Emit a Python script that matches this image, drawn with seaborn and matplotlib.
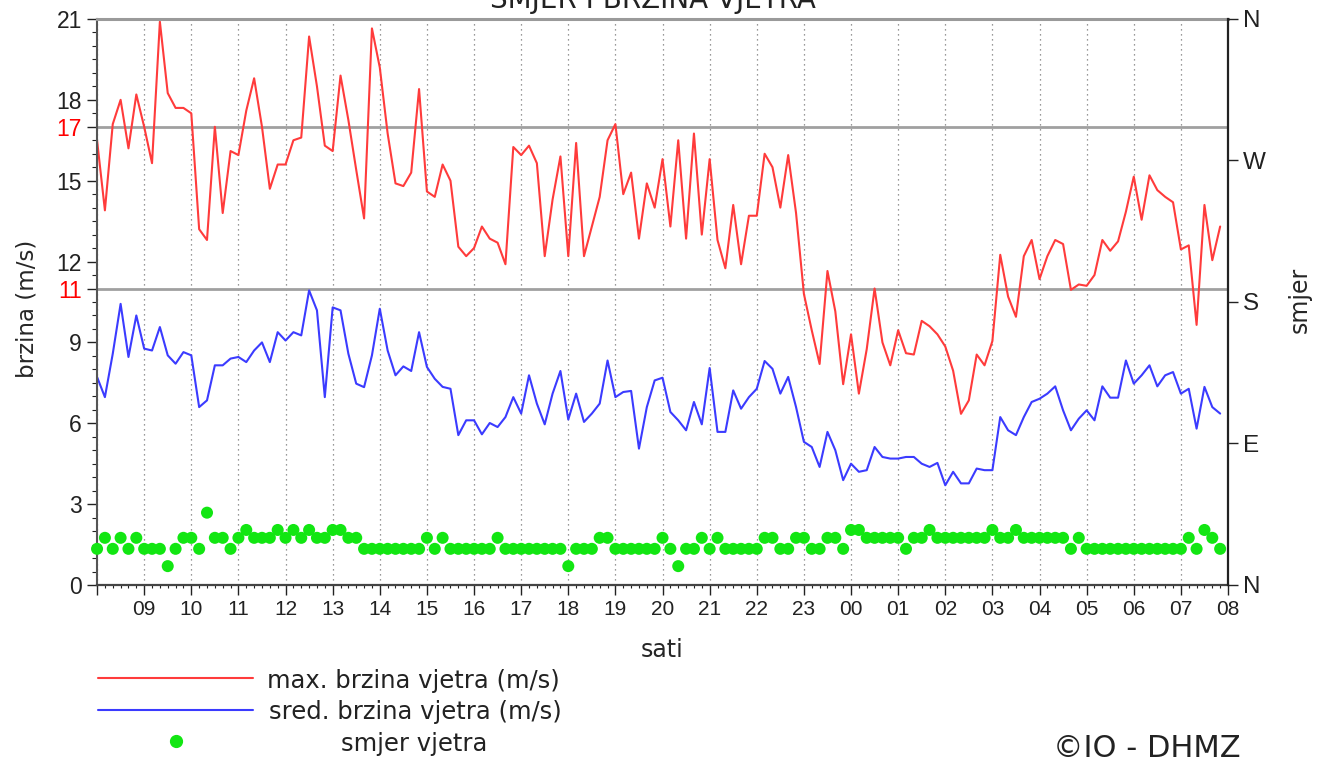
import numpy as np
import pandas as pd
import matplotlib as mpl
from matplotlib import pyplot as plt
from matplotlib import dates as mdates
from matplotlib.lines import Line2D
from matplotlib.ticker import MultipleLocator
import seaborn as sb

# 10 minute values, 08:00 -> 07:50 next day
max_speed = [
    16.5, 13.9, 17.1, 18.0, 16.2, 18.2, 17.0, 15.65, 20.9, 18.25,
    17.7, 17.7, 17.5, 13.2, 12.8, 17.0, 13.8, 16.1, 15.95, 17.6,
    18.8, 17.0, 14.7, 15.6, 15.6, 16.5, 16.6, 20.35, 18.5, 16.3,
    16.1, 18.9, 17.25, 15.4, 13.6, 20.65, 19.2, 16.75, 14.9, 14.8,
    15.3, 18.4, 14.6, 14.4, 15.6, 15.0, 12.55, 12.2, 12.5, 13.3,
    12.85, 12.7, 11.9, 16.25, 15.95, 16.3, 15.65, 12.2, 14.3, 15.9,
    12.2, 16.4, 12.2, 13.3, 14.4, 16.5, 17.1, 14.5, 15.3, 12.85,
    14.9, 14.0, 15.8, 13.3, 16.5, 12.85, 16.75, 13.0, 15.8, 12.8,
    11.75, 14.1, 11.9, 13.7, 13.7, 16.0, 15.5, 14.0, 15.95, 13.8,
    10.8, 9.45, 8.2, 11.65, 10.15, 7.45, 9.3, 7.1, 8.75, 11.0,
    9.0, 8.15, 9.45, 8.6, 8.55, 9.8, 9.6, 9.3, 8.85, 7.95,
    6.35, 6.85, 8.55, 8.15, 9.05, 12.25, 10.7, 9.95, 12.2, 12.8,
    11.35, 12.2, 12.8, 12.65, 10.95, 11.15, 11.1, 11.5, 12.8, 12.4,
    12.75, 13.85, 15.15, 13.55, 15.2, 14.65, 14.4, 14.2, 12.45, 12.6,
    9.65, 14.1, 12.05, 13.3,
]
mean_speed = [
    7.72, 6.97, 8.58, 10.43, 8.46, 10.0, 8.77, 8.7, 9.57, 8.52,
    8.21, 8.64, 8.52, 6.6, 6.85, 8.15, 8.15, 8.4, 8.46, 8.27,
    8.7, 9.0, 8.27, 9.38, 9.07, 9.38, 9.26, 10.93, 10.19, 6.97,
    10.3, 10.19, 8.58, 7.47, 7.34, 8.52, 10.25, 8.7, 7.78, 8.11,
    7.94, 9.38, 8.09, 7.65, 7.35, 7.28, 5.56, 6.11, 6.11, 5.59,
    6.01, 5.86, 6.23, 6.97, 6.36, 7.78, 6.73, 5.96, 7.1, 7.94,
    6.14, 7.1, 6.05, 6.36, 6.73, 8.33, 6.97, 7.16, 7.2, 5.06,
    6.6, 7.59, 7.69, 6.42, 6.11, 5.74, 6.79, 5.96, 8.05, 5.68,
    5.68, 7.22, 6.54, 6.97, 7.28, 8.31, 8.02, 7.1, 7.72, 6.6,
    5.31, 5.12, 4.38, 5.68, 5.0, 3.89, 4.5, 4.2, 4.26, 5.12,
    4.75, 4.69, 4.69, 4.75, 4.75, 4.5, 4.38, 4.53, 3.7, 4.2,
    3.77, 3.77, 4.32, 4.26, 4.26, 6.23, 5.74, 5.56, 6.23, 6.79,
    6.91, 7.1, 7.37, 6.48, 5.74, 6.17, 6.48, 6.11, 7.37, 6.95,
    6.95, 8.33, 7.47, 7.78, 8.15, 7.37, 7.78, 7.9, 7.1, 7.28,
    5.8, 7.35, 6.6, 6.36,
]
# wind direction in degrees
direction = [
    23, 30, 23, 30, 23, 30, 23, 23, 23, 12,
    23, 30, 30, 23, 46, 30, 30, 23, 30, 35,
    30, 30, 30, 35, 30, 35, 30, 35, 30, 30,
    35, 35, 30, 30, 23, 23, 23, 23, 23, 23,
    23, 23, 30, 23, 30, 23, 23, 23, 23, 23,
    23, 30, 23, 23, 23, 23, 23, 23, 23, 23,
    12, 23, 23, 23, 30, 30, 23, 23, 23, 23,
    23, 23, 30, 23, 12, 23, 23, 30, 23, 30,
    23, 23, 23, 23, 23, 30, 30, 23, 23, 30,
    30, 23, 23, 30, 30, 23, 35, 35, 30, 30,
    30, 30, 30, 23, 30, 30, 35, 30, 30, 30,
    30, 30, 30, 30, 35, 30, 30, 35, 30, 30,
    30, 30, 30, 30, 23, 30, 23, 23, 23, 23,
    23, 23, 23, 23, 23, 23, 23, 23, 23, 30,
    23, 35, 30, 23,
]

start = pd.Timestamp("2024-01-01 08:00")
times = pd.date_range(start, periods=len(max_speed), freq="10min")
hour_ticks = pd.date_range(start, periods=25, freq="h")
hour_labels = [""] + [t.strftime("%H") for t in hour_ticks[1:]]

speed_ticks = [0, 3, 6, 9, 11, 12, 15, 17, 18, 21]
limit_lines = [11, 17]
compass_ticks = [0, 90, 180, 270, 360]
compass_labels = ["N", "E", "S", "W", "N"]

RED = "#ff3b3b"
BLUE = "#3b3bff"
GREEN = "#12e612"
WORDS = "DejaVu Sans"

sb.set_theme(style="white")
mpl.rcParams.update({
    "axes.facecolor": "white",
    "figure.facecolor": "white",
    "text.color": "#222222",
    "xtick.color": "#222222",
    "ytick.color": "#222222",
})
mpl.rcParams["font.family"] = ["Liberation Sans", "DejaVu Sans"]

data = pd.DataFrame({"t": times, "max": max_speed, "mean": mean_speed, "dir": direction})

fig = plt.figure(figsize=(13.24, 7.65), dpi=100)
ax = fig.add_axes([0.0733, 0.2353, 0.8542, 0.7399])

sb.lineplot(data=data, x="t", y="max", color=RED, linewidth=1.5, ax=ax)
sb.lineplot(data=data, x="t", y="mean", color=BLUE, linewidth=1.5, ax=ax)

for v in limit_lines:
    ax.axhline(v, color="#a0a0a0", linewidth=2.0, zorder=1)

ax.set_xlim(mdates.date2num(hour_ticks[0]), mdates.date2num(hour_ticks[-1]))
ax.set_ylim(0, 21)
ax.set_xticks(mdates.date2num(hour_ticks))
ax.set_xticklabels(hour_labels)
ax.xaxis.set_minor_locator(mdates.MinuteLocator(byminute=range(0, 60, 10)))
ax.set_yticks(speed_ticks)
ax.yaxis.set_minor_locator(MultipleLocator(0.5))
for lab in ax.get_yticklabels():
    if float(lab.get_text().replace("\u2212", "-")) in limit_lines:
        lab.set_color("red")

ax.grid(True, axis="x", which="major", color="#777777", linestyle=(0, (1, 3)), linewidth=0.9)
ax.tick_params(axis="x", which="major", bottom=True, direction="out", length=7, width=1,
               labelsize=15, pad=4)
ax.tick_params(axis="x", which="minor", bottom=True, direction="out", length=2.5, width=0.8)
ax.tick_params(axis="y", which="major", left=True, direction="out", length=7, width=1,
               labelsize=16.5, pad=4)
ax.tick_params(axis="y", which="minor", left=True, direction="out", length=3.5, width=0.8)

ax.spines["top"].set_color("#9a9a9a")
ax.spines["top"].set_linewidth(2.2)
ax.spines["left"].set_color("#555555")
ax.spines["left"].set_linewidth(1.5)
ax.spines["bottom"].set_color("#444444")
ax.spines["bottom"].set_linewidth(1.6)
ax.spines["right"].set_visible(False)

ax.set_xlabel("sati", fontsize=17, family=WORDS)
ax.xaxis.set_label_coords(0.5, -0.094)
ax.set_ylabel("brzina (m/s)", fontsize=16.5, family=WORDS)
ax.yaxis.set_label_coords(-0.052, 0.488)

# direction on the right axis
ax2 = ax.twinx()
sb.scatterplot(data=data, x="t", y="dir", color=GREEN, s=75, edgecolor="none", ax=ax2,
               legend=False, clip_on=False)
ax2.set_ylim(0, 360)
ax2.set_yticks(compass_ticks)
ax2.set_yticklabels(compass_labels)
ax2.tick_params(axis="y", right=True, direction="out", length=7, width=1, labelsize=17.5, pad=4)
for s in ["top", "left", "bottom"]:
    ax2.spines[s].set_visible(False)
ax2.spines["right"].set_color("#222222")
ax2.spines["right"].set_linewidth(1.6)
ax2.set_ylabel("smjer", fontsize=17, family=WORDS)
ax2.yaxis.set_label_coords(1.053, 0.5035)

# title (cut off at the top edge as in the source)
fig.text(0.4928, 1 - 8 / 765, "SMJER I BRZINA VJETRA", ha="center", va="baseline",
         fontsize=20, family=WORDS)

# legend, drawn below the plot
tf = fig.transFigure
fig.add_artist(Line2D([0.074, 0.191], [0.1137, 0.1137], transform=tf, color=RED, linewidth=1.5))
fig.add_artist(Line2D([0.074, 0.191], [0.0719, 0.0719], transform=tf, color=BLUE, linewidth=1.5))
fig.add_artist(Line2D([0.1329], [0.0314], transform=tf, color=GREEN, marker="o",
                      markersize=8.5, linestyle="none"))
fig.text(0.312, 0.1098, "max. brzina vjetra (m/s)", ha="center", va="center", fontsize=17.5, family=WORDS)
fig.text(0.314, 0.0693, "sred. brzina vjetra (m/s)", ha="center", va="center", fontsize=17.5, family=WORDS)
fig.text(0.313, 0.0275, "smjer vjetra", ha="center", va="center", fontsize=17.5, family=WORDS)
fig.text(0.866, 0.022, "\u00a9IO - DHMZ", ha="center", va="center", fontsize=22, family=WORDS)

fig.savefig("out.png", dpi=100)
